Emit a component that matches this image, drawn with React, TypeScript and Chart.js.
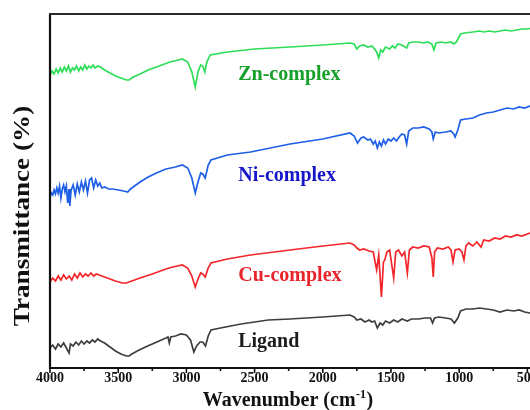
import React, { useEffect, useRef } from "react";
import { Chart, registerables } from "chart.js";

Chart.register(...registerables);

// ---- data (wavenumber cm^-1, transmittance a.u.) ----
const SERIES_NAMES = ["Ligand", "Cu-complex", "Ni-complex", "Zn-complex"];

const LIGAND: [number, number][] = [
  [4000, 20], [3980, 23], [3960, 19], [3940, 24], [3920, 21], [3900, 25], [3880, 20], [3860, 15],
  [3850, 24], [3830, 22], [3810, 26], [3790, 23], [3770, 27], [3750, 24], [3730, 27], [3710, 25],
  [3690, 28], [3670, 26], [3650, 29], [3630, 27], [3600, 25], [3560, 21], [3520, 17], [3480, 14],
  [3440, 12], [3420, 12], [3400, 14], [3360, 17], [3300, 21], [3250, 24], [3200, 27], [3150, 30],
  [3135, 31], [3125, 25], [3115, 31], [3080, 32], [3040, 34], [3000, 33], [2970, 28], [2945, 16],
  [2925, 22], [2900, 26], [2880, 26], [2860, 22], [2840, 32], [2820, 38], [2750, 40], [2600, 44],
  [2500, 46], [2400, 48], [2240, 49], [2000, 51], [1800, 53], [1770, 51], [1750, 48], [1720, 49],
  [1690, 46], [1660, 48], [1640, 46], [1620, 47], [1600, 40], [1580, 45], [1560, 43], [1540, 47],
  [1510, 45], [1480, 48], [1450, 46], [1420, 49], [1380, 47], [1350, 49], [1300, 49], [1250, 50],
  [1210, 50], [1195, 45], [1180, 50], [1150, 51], [1100, 50], [1060, 49], [1035, 45], [1010, 50],
  [990, 57], [950, 59], [900, 59], [850, 60], [800, 59], [750, 58], [700, 56], [650, 58],
  [600, 57], [560, 58], [520, 56], [480, 55], [440, 53], [400, 52],
];

const CU: [number, number][] = [
  [4000, 86], [3980, 90], [3960, 87], [3940, 92], [3920, 88], [3900, 93], [3880, 89], [3860, 92],
  [3840, 88], [3820, 94], [3800, 90], [3780, 95], [3760, 91], [3740, 94], [3720, 92], [3700, 95],
  [3680, 92], [3660, 94], [3640, 93], [3600, 91], [3560, 89], [3520, 87], [3470, 85], [3440, 85],
  [3400, 87], [3340, 90], [3250, 94], [3150, 99], [3100, 101], [3030, 103], [2990, 100], [2960, 92],
  [2935, 81], [2915, 89], [2895, 95], [2880, 94], [2862, 91], [2840, 100], [2820, 105], [2700, 109],
  [2530, 113], [2240, 118], [2000, 122], [1800, 125], [1770, 123], [1750, 120], [1730, 118], [1700, 119],
  [1660, 117], [1630, 116], [1605, 98], [1590, 113], [1570, 71], [1555, 106], [1545, 108], [1530, 116],
  [1510, 118], [1480, 90], [1465, 116], [1445, 118], [1420, 112], [1400, 116], [1380, 95], [1365, 118],
  [1340, 121], [1300, 120], [1260, 122], [1220, 121], [1200, 110], [1190, 91], [1180, 116], [1160, 120],
  [1120, 119], [1080, 121], [1060, 118], [1045, 106], [1030, 118], [1000, 119], [980, 116], [965, 108],
  [950, 122], [930, 125], [900, 122], [870, 126], [840, 121], [820, 128], [780, 127], [740, 130],
  [700, 129], [660, 132], [620, 131], [580, 133], [540, 132], [500, 134], [460, 136], [420, 136],
  [400, 137],
];

const NI: [number, number][] = [
  [4000, 171], [3990, 175], [3980, 173], [3970, 178], [3960, 174], [3950, 180], [3940, 175], [3930, 182],
  [3920, 170], [3910, 179], [3900, 183], [3890, 176], [3880, 182], [3870, 165], [3860, 179], [3855, 162],
  [3845, 178], [3830, 183], [3815, 173], [3800, 184], [3785, 176], [3770, 186], [3755, 178], [3740, 187],
  [3725, 175], [3710, 188], [3695, 190], [3680, 180], [3665, 188], [3650, 182], [3635, 185], [3620, 180],
  [3600, 181], [3570, 179], [3540, 179], [3500, 178], [3460, 177], [3430, 176], [3410, 179], [3390, 181],
  [3340, 186], [3280, 191], [3220, 195], [3150, 199], [3080, 201], [3030, 203], [2990, 200], [2960, 190],
  [2935, 175], [2915, 186], [2895, 195], [2880, 194], [2862, 190], [2840, 203], [2820, 208], [2700, 213],
  [2530, 216], [2240, 224], [2000, 229], [1800, 235], [1770, 232], [1745, 225], [1720, 230], [1700, 231],
  [1670, 228], [1650, 229], [1630, 224], [1615, 227], [1600, 220], [1585, 226], [1570, 222], [1555, 228],
  [1540, 224], [1520, 229], [1500, 227], [1480, 230], [1460, 227], [1440, 231], [1420, 234], [1400, 233],
  [1385, 224], [1370, 237], [1340, 240], [1300, 240], [1260, 241], [1220, 239], [1200, 236], [1190, 229],
  [1175, 236], [1150, 235], [1100, 236], [1060, 237], [1040, 234], [1030, 231], [1010, 238], [990, 248],
  [950, 249], [900, 250], [850, 253], [800, 255], [750, 256], [700, 258], [650, 260], [600, 259],
  [560, 261], [520, 260], [480, 262], [440, 261], [400, 262],
];

const ZN: [number, number][] = [
  [4000, 293], [3985, 297], [3970, 294], [3955, 299], [3940, 295], [3925, 300], [3910, 296], [3895, 301],
  [3880, 297], [3865, 302], [3850, 296], [3835, 300], [3820, 298], [3805, 302], [3790, 297], [3775, 301],
  [3760, 298], [3745, 303], [3730, 299], [3715, 302], [3700, 300], [3685, 303], [3670, 300], [3650, 302],
  [3630, 301], [3600, 298], [3560, 295], [3520, 292], [3480, 290], [3440, 288], [3420, 288], [3390, 291],
  [3340, 294], [3280, 298], [3200, 302], [3120, 306], [3060, 308], [3030, 309], [2990, 306], [2960, 296],
  [2935, 281], [2915, 296], [2895, 303], [2880, 302], [2865, 296], [2850, 306], [2825, 313], [2700, 316],
  [2500, 319], [2240, 321], [2000, 323], [1800, 325], [1770, 324], [1750, 319], [1730, 322], [1700, 323],
  [1670, 321], [1640, 322], [1620, 319], [1605, 316], [1590, 310], [1575, 318], [1560, 316], [1540, 321],
  [1510, 319], [1490, 322], [1470, 320], [1450, 324], [1420, 323], [1385, 320], [1370, 325], [1340, 326],
  [1300, 326], [1260, 325], [1230, 326], [1200, 324], [1185, 318], [1170, 325], [1130, 326], [1100, 325],
  [1060, 326], [1040, 324], [1020, 326], [990, 334], [960, 335], [900, 336], [850, 337], [820, 336],
  [780, 337], [740, 336], [700, 337], [660, 338], [620, 337], [580, 338], [540, 339], [500, 339],
  [460, 340], [430, 339], [400, 340],
];

const X_MAJOR = [4000, 3500, 3000, 2500, 2000, 1500, 1000, 500];
const X_MINOR = [3750, 3250, 2750, 2250, 1750, 1250, 750];
const X_TITLE = "Wavenumber (cm";
const X_TITLE_SUP = "-1";
const Y_TITLE = "Transmittance (%)";

const SERIF = "'Liberation Serif', 'Times New Roman', 'DejaVu Serif', serif";

export default function App() {
  const ref = useRef<HTMLCanvasElement | null>(null);

  useEffect(() => {
    const canvas = ref.current;
    if (!canvas) return;

    const lineColors = ["#3b403b", "#f2262b", "#1f5fe8", "#2ede58"];
    const textColors = ["#1c1c1c", "#e8242a", "#1616c8", "#17a02a"];
    const series = [LIGAND, CU, NI, ZN];
    // label anchor in data units (wavenumber, transmittance baseline)
    const labelAnchors: [number, number][] = [
      [2620, 21],
      [2620, 87],
      [2620, 187],
      [2620, 288],
    ];

    const decor = {
      id: "decor",
      afterDraw(chart: any) {
        const ctx = chart.ctx as CanvasRenderingContext2D;
        const area = chart.chartArea;
        const xs = chart.scales.x;
        const ys = chart.scales.y;
        ctx.save();
        // frame
        ctx.strokeStyle = "#111";
        ctx.lineWidth = 2.2;
        ctx.beginPath();
        ctx.moveTo(area.left, area.top);
        ctx.lineTo(area.left, area.bottom);
        ctx.lineTo(chart.width, area.bottom);
        ctx.stroke();
        ctx.strokeStyle = "#2a2a2a";
        ctx.lineWidth = 2;
        ctx.beginPath();
        ctx.moveTo(area.left - 1, area.top);
        ctx.lineTo(chart.width, area.top);
        ctx.stroke();

        // ticks
        ctx.strokeStyle = "#111";
        ctx.lineWidth = 1.6;
        X_MAJOR.forEach((v) => {
          const px = xs.getPixelForValue(v);
          ctx.beginPath();
          ctx.moveTo(px, area.bottom);
          ctx.lineTo(px, area.bottom + 5);
          ctx.stroke();
        });
        X_MINOR.forEach((v) => {
          const px = xs.getPixelForValue(v);
          ctx.beginPath();
          ctx.moveTo(px, area.bottom);
          ctx.lineTo(px, area.bottom + 3);
          ctx.stroke();
        });

        // tick labels
        ctx.fillStyle = "#111";
        ctx.font = `bold 14px ${SERIF}`;
        ctx.textAlign = "center";
        ctx.textBaseline = "alphabetic";
        X_MAJOR.forEach((v) => {
          const px = xs.getPixelForValue(v);
          ctx.fillText(String(v), px, area.bottom + 14);
        });

        // x title with superscript
        const big = `bold 20px ${SERIF}`;
        const small = `bold 12px ${SERIF}`;
        ctx.font = big;
        const w1 = ctx.measureText(X_TITLE).width;
        const w3 = ctx.measureText(")").width;
        ctx.font = small;
        const w2 = ctx.measureText(X_TITLE_SUP).width;
        const total = w1 + w2 + w3 + 1;
        const x0 = 288 - total / 2;
        const base = area.bottom + 38;
        ctx.textAlign = "left";
        ctx.font = big;
        ctx.fillText(X_TITLE, x0, base);
        ctx.font = small;
        ctx.fillText(X_TITLE_SUP, x0 + w1 + 0.5, base - 8);
        ctx.font = big;
        ctx.fillText(")", x0 + w1 + w2 + 1, base);

        // y title (slightly elongated, as in the reference)
        ctx.save();
        ctx.translate(29, 216);
        ctx.rotate(-Math.PI / 2);
        ctx.scale(1.18, 1);
        ctx.font = `bold 23px ${SERIF}`;
        ctx.textAlign = "center";
        ctx.textBaseline = "alphabetic";
        ctx.fillText(Y_TITLE, 0, 0);
        ctx.restore();

        // series labels
        ctx.font = `bold 20px ${SERIF}`;
        ctx.textAlign = "left";
        SERIES_NAMES.forEach((name, i) => {
          const [wx, wy] = labelAnchors[i];
          ctx.fillStyle = textColors[i];
          ctx.fillText(name, xs.getPixelForValue(wx), ys.getPixelForValue(wy));
        });
        ctx.restore();
      },
    };

    const chart = new Chart(canvas, {
      type: "line",
      data: {
        datasets: series.map((s, i) => ({
          label: SERIES_NAMES[i],
          data: s.map(([x, y]) => ({ x, y })),
          borderColor: lineColors[i],
          backgroundColor: lineColors[i],
          borderWidth: 1.7,
          pointRadius: 0,
          tension: 0,
          fill: false,
        })),
      },
      options: {
        responsive: false,
        animation: false,
        devicePixelRatio: 1,
        layout: { padding: { left: 50, right: 29, top: 14, bottom: 42 } },
        plugins: { legend: { display: false }, tooltip: { enabled: false }, title: { display: false } },
        scales: {
          x: { type: "linear", reverse: true, min: 400, max: 4000, display: false },
          y: { type: "linear", min: 0, max: 354, display: false },
        },
      },
      plugins: [decor],
    });
    return () => chart.destroy();
  }, []);

  return (
    <div style={{ position: "absolute", left: 0, top: 0, width: 530, height: 410, overflow: "hidden", background: "#fff" }}>
      <canvas ref={ref} width={570} height={410} style={{ display: "block", width: 570, height: 410 }} />
    </div>
  );
}
